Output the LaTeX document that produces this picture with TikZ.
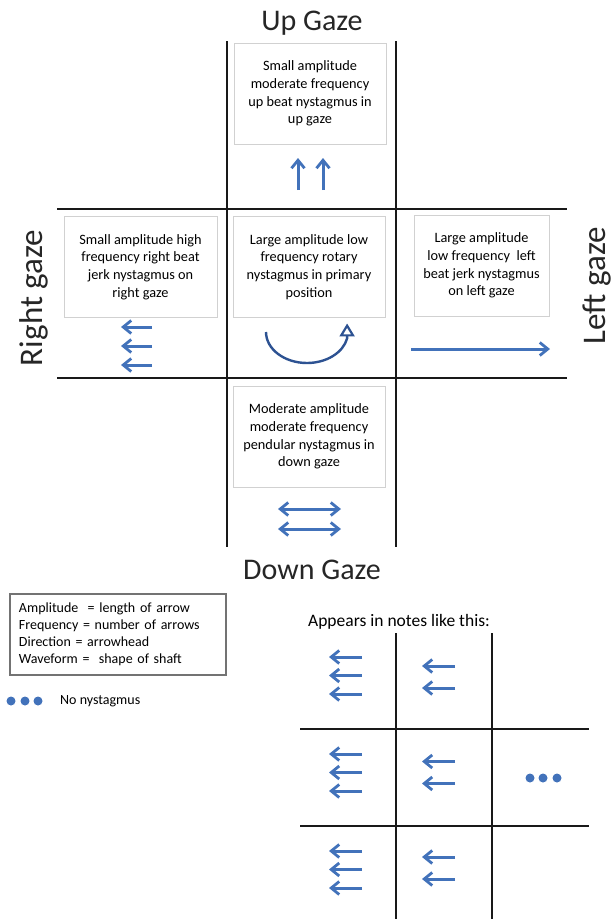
\documentclass[tikz,border=0pt]{standalone}
\usepackage{fontspec}
\setmainfont{Carlito}
\usetikzlibrary{arrows.meta}
\definecolor{nysblue}{RGB}{66,114,186}
\definecolor{rotblue}{RGB}{45,82,146}

\begin{document}
\begin{tikzpicture}[x=1pt,y=-1pt,
  gridline/.style={black!90, line width=1.6pt},
  notebox/.style={draw=black!18, line width=1pt, align=center, minimum width=152pt, minimum height=101pt, inner sep=2pt, font=\fontsize{14.3}{17.7}\selectfont},
  beat/.style={nysblue, line width=3pt, -{Straight Barb[length=8pt,width=13pt,line width=2.8pt]}},
  swing/.style={nysblue, line width=3pt, {Straight Barb[length=8pt,width=13pt,line width=2.8pt]}-{Straight Barb[length=8pt,width=13pt,line width=2.8pt]}},
  gaze/.style={text=black!85, font=\fontsize{30}{34}\selectfont},
  sidegaze/.style={text=black!85, font=\fontsize{33}{36}\selectfont, rotate=90}]
\useasboundingbox (0,0) rectangle (616,919);
\draw[gridline] (227,41)--(227,547);
\draw[gridline] (396,41)--(396,547);
\draw[gridline] (57,209)--(567,209);
\draw[gridline] (57,378)--(567,378);
\node[gaze] (uplabel) at (312,23) {Up Gaze};
\node[gaze] (downlabel) at (312,570) {Down Gaze};
\node[sidegaze] (rightlabel) at (34,298) {Right gaze};
\node[sidegaze] (leftlabel) at (597,285.5) {Left gaze};
\node[notebox] (upbox) at (310,93.5) {Small amplitude\\moderate frequency\\up beat nystagmus in\\up gaze};
\node[notebox] (primbox) at (309,267) {Large amplitude low\\frequency rotary\\nystagmus in primary\\position};
\node[notebox, minimum width=153pt] (rightbox) at (140.5,267) {Small amplitude high\\frequency right beat\\jerk nystagmus on\\right gaze};
\node[notebox, minimum width=135pt] (leftbox) at (481.5,265.5) {Large amplitude\\low frequency~ left\\beat jerk nystagmus\\on left gaze};
\node[notebox] (downbox) at (309,436.5) {Moderate amplitude\\moderate frequency\\pendular nystagmus in\\down gaze};
\foreach \x in {298,323}
  \draw[beat] (\x,190)--(\x,158);
\foreach \y in {327,346,365}
  \draw[beat] (152,\y)--(121,\y);
\draw[beat] (411,349)--(550,349);
\foreach \y in {509,529}
  \draw[swing] (278,\y)--(341,\y);
\draw[rotblue, line width=2.4pt, -{Triangle[open,length=13pt,width=15pt,line width=2.2pt]}] (266,332) arc[start angle=180, end angle=12, x radius=41, y radius=31] -- ++(0,-15);
\node[draw=black!55, line width=1.2pt, text width=198pt, align=left, inner xsep=9pt, minimum height=81pt, font=\fontsize{14}{17}\selectfont] (legend) at (118,634.5) {Amplitude~ = length of arrow\\Frequency = number of arrows\\Direction = arrowhead\\Waveform = ~shape of shaft};
\foreach \x in {11,25,38}
  \fill[nysblue] (\x,701) circle (4.5);
\node[anchor=west, inner sep=0pt, font=\fontsize{14}{17}\selectfont] (nonys) at (60,701) {No nystagmus};
\node[font=\fontsize{17.5}{20}\selectfont] (notes) at (399,622) {Appears in notes like this:};
\draw[gridline] (396,633)--(396,919);
\draw[gridline] (492,633)--(492,919);
\draw[gridline] (300,729)--(589,729);
\draw[gridline] (300,826)--(589,826);
\foreach \r [evaluate=\r as \yb using 657+97*\r] in {0,1,2}
  \foreach \k in {0,1,2}
    \draw[beat] (362,\yb+18.5*\k)--(329,\yb+18.5*\k);
\foreach \r [evaluate=\r as \yb using 666+95.5*\r] in {0,1,2}
  \foreach \k in {0,1}
    \draw[beat] (455,\yb+22*\k)--(422,\yb+22*\k);
\foreach \x in {530,543,557}
  \fill[nysblue] (\x,778) circle (4.5);
\end{tikzpicture}
\end{document}
